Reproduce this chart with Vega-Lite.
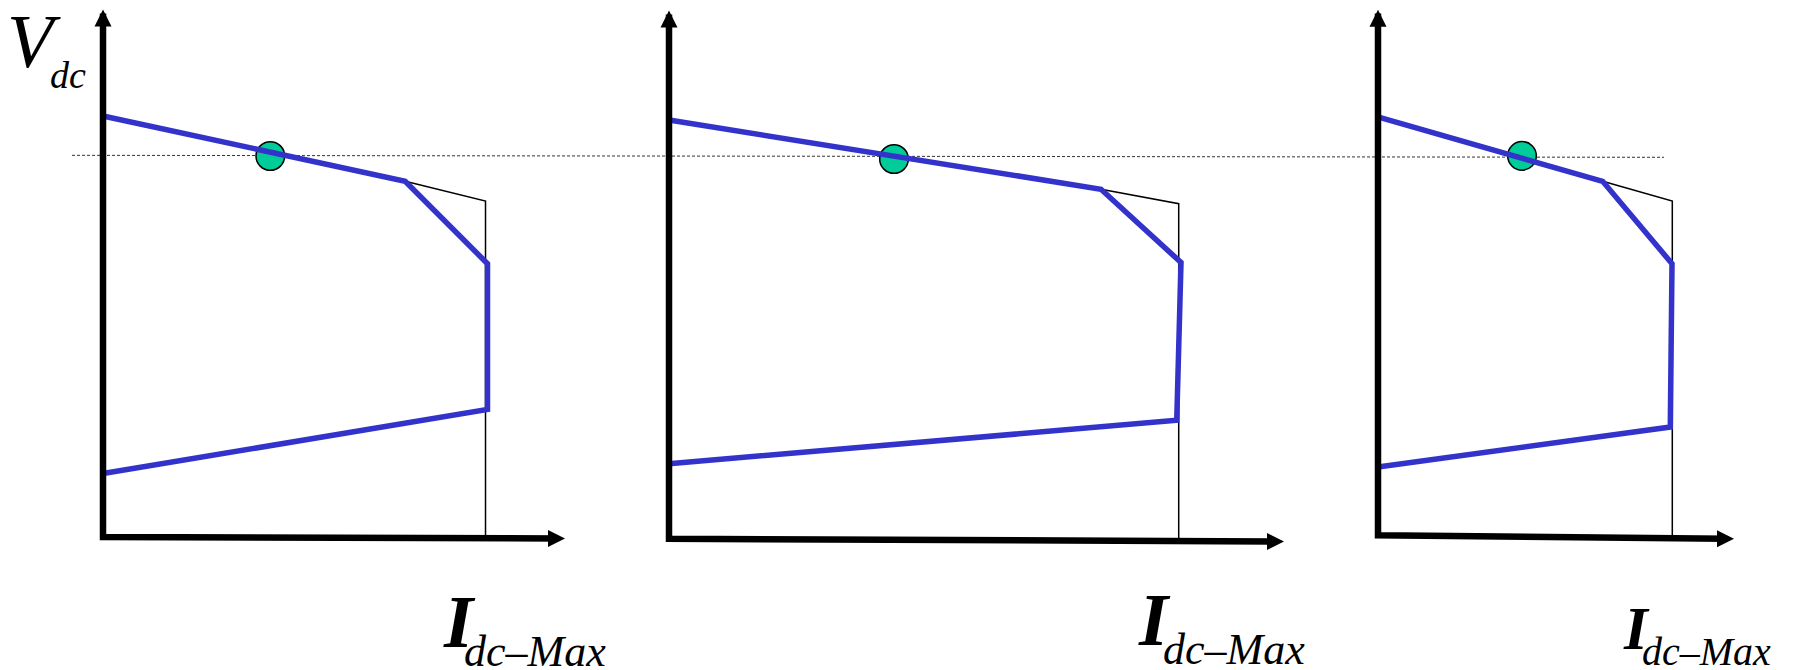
{
  "$schema": "https://vega.github.io/schema/vega-lite/v6.json",
  "padding": {"left": 6, "top": 0, "right": 0, "bottom": 0},
  "bounds": "flush",
  "spacing": 90,
  "background": "white",
  "config": {"view": {"stroke": null}},
  "datasets": {
    "curves": [
      {"panel": 1, "series": "limit", "ord": 1, "I": 0, "V": 1.1017},
      {"panel": 1, "series": "limit", "ord": 2, "I": 0.79, "V": 0.9308},
      {"panel": 1, "series": "limit", "ord": 3, "I": 1.0052, "V": 0.7152},
      {"panel": 1, "series": "limit", "ord": 4, "I": 1.0052, "V": 0.3336},
      {"panel": 1, "series": "limit", "ord": 5, "I": 0, "V": 0.1662},
      {"panel": 1, "series": "rated", "ord": 1, "I": 0.79, "V": 0.9308},
      {"panel": 1, "series": "rated", "ord": 2, "I": 1.0, "V": 0.8793},
      {"panel": 1, "series": "rated", "ord": 3, "I": 1.0, "V": 0},
      {"panel": 2, "series": "limit", "ord": 1, "I": 0, "V": 1.0912},
      {"panel": 2, "series": "limit", "ord": 2, "I": 0.8476, "V": 0.9099},
      {"panel": 2, "series": "limit", "ord": 3, "I": 1.0045, "V": 0.7183},
      {"panel": 2, "series": "limit", "ord": 4, "I": 0.9961, "V": 0.3054},
      {"panel": 2, "series": "limit", "ord": 5, "I": 0, "V": 0.1918},
      {"panel": 2, "series": "rated", "ord": 1, "I": 0.8476, "V": 0.9099},
      {"panel": 2, "series": "rated", "ord": 2, "I": 1.0, "V": 0.8722},
      {"panel": 2, "series": "rated", "ord": 3, "I": 1.0, "V": -0.006},
      {"panel": 3, "series": "limit", "ord": 1, "I": 0.005, "V": 1.098},
      {"panel": 3, "series": "limit", "ord": 2, "I": 0.7635, "V": 0.9308},
      {"panel": 3, "series": "limit", "ord": 3, "I": 0.999, "V": 0.7152},
      {"panel": 3, "series": "limit", "ord": 4, "I": 0.9932, "V": 0.2879},
      {"panel": 3, "series": "limit", "ord": 5, "I": 0, "V": 0.1832},
      {"panel": 3, "series": "rated", "ord": 1, "I": 0.7635, "V": 0.9308},
      {"panel": 3, "series": "rated", "ord": 2, "I": 1.0, "V": 0.8793},
      {"panel": 3, "series": "rated", "ord": 3, "I": 1.0, "V": 0}
    ],
    "axes": [
      {"panel": 1, "ord": 1, "I": 0, "V": 1.37},
      {"panel": 1, "ord": 2, "I": 0, "V": 0},
      {"panel": 1, "ord": 3, "I": 1.19, "V": -0.004},
      {"panel": 2, "ord": 1, "I": 0, "V": 1.367},
      {"panel": 2, "ord": 2, "I": 0, "V": -0.0044},
      {"panel": 2, "ord": 3, "I": 1.19, "V": -0.012},
      {"panel": 3, "ord": 1, "I": 0, "V": 1.37},
      {"panel": 3, "ord": 2, "I": 0, "V": 0.0044},
      {"panel": 3, "ord": 3, "I": 1.18, "V": -0.0044}
    ],
    "arrows": [
      {"panel": 1, "dir": "up", "I": 0, "V": 1.3804},
      {"panel": 1, "dir": "right", "I": 1.2078, "V": -0.004},
      {"panel": 2, "dir": "up", "I": 0, "V": 1.3778},
      {"panel": 2, "dir": "right", "I": 1.2066, "V": -0.012},
      {"panel": 3, "dir": "up", "I": 0, "V": 1.38},
      {"panel": 3, "dir": "right", "I": 1.2096, "V": -0.0044}
    ],
    "operating": [
      {"panel": 1, "I": 0.4374, "V": 0.997},
      {"panel": 2, "I": 0.4414, "V": 0.9892},
      {"panel": 3, "I": 0.4893, "V": 0.9975}
    ],
    "reference": [
      {"ord": 1, "I": -0.081, "V": 0.9988},
      {"ord": 2, "I": 4.081, "V": 0.9936}
    ],
    "labels": [
      {"panel": 1, "role": "yname", "text": "V", "I": -0.251, "V": 1.2299},
      {"panel": 1, "role": "ysub", "text": "dc", "I": -0.1386, "V": 1.175},
      {"panel": 1, "role": "xname", "text": "I", "I": 0.8915, "V": -0.2878},
      {"panel": 1, "role": "xsub", "text": "dc–Max", "I": 0.9438, "V": -0.3376},
      {"panel": 2, "role": "xname", "text": "I", "I": 0.9221, "V": -0.2826},
      {"panel": 2, "role": "xsub", "text": "dc–Max", "I": 0.9692, "V": -0.3323},
      {"panel": 3, "role": "xname", "text": "I", "I": 0.8359, "V": -0.2931},
      {"panel": 3, "role": "xsub", "text": "dc–Max", "I": 0.8971, "V": -0.335}
    ]
  },
  "hconcat": [
    {
      "width": 476,
      "height": 535,
      "encoding": {
        "x": {"field": "I", "type": "quantitative", "scale": {"domain": [0, 1.2444], "nice": false, "zero": false}, "axis": null},
        "y": {"field": "V", "type": "quantitative", "scale": {"domain": [0, 1.4], "nice": false, "zero": false}, "axis": null}
      },
      "layer": [
        {"data": {"name": "reference"}, "mark": {"type": "line", "color": "#333333", "strokeWidth": 1, "strokeDash": [3, 2]}, "encoding": {"order": {"field": "ord"}}},
        {"data": {"name": "operating"}, "transform": [{"filter": "datum.panel === 1"}], "mark": {"type": "point", "shape": "circle", "filled": true, "fill": "#00CC99", "stroke": "black", "strokeWidth": 1.5, "opacity": 1, "size": 820}},
        {"data": {"name": "curves"}, "transform": [{"filter": "datum.panel === 1 && datum.series === 'rated'"}], "mark": {"type": "line", "color": "black", "strokeWidth": 1.5}, "encoding": {"order": {"field": "ord"}}},
        {"data": {"name": "curves"}, "transform": [{"filter": "datum.panel === 1 && datum.series === 'limit'"}], "mark": {"type": "line", "color": "#3333CC", "strokeWidth": 5.5}, "encoding": {"order": {"field": "ord"}}},
        {"data": {"name": "axes"}, "transform": [{"filter": "datum.panel === 1"}], "mark": {"type": "line", "color": "black", "strokeWidth": 6.5, "strokeJoin": "miter"}, "encoding": {"order": {"field": "ord"}}},
        {"data": {"name": "arrows"}, "transform": [{"filter": "datum.panel === 1 && datum.dir === 'up'"}], "mark": {"type": "point", "shape": "M0,0L-1,2L1,2Z", "filled": true, "color": "black", "opacity": 1, "size": 289}},
        {"data": {"name": "arrows"}, "transform": [{"filter": "datum.panel === 1 && datum.dir === 'right'"}], "mark": {"type": "point", "shape": "M0,0L-2,-1L-2,1Z", "filled": true, "color": "black", "opacity": 1, "size": 289}},
        {"data": {"name": "labels"}, "transform": [{"filter": "datum.panel === 1 && datum.role === 'yname'"}], "mark": {"type": "text", "font": "Liberation Serif", "fontStyle": "italic", "fontSize": 76, "align": "left", "baseline": "alphabetic", "color": "black"}, "encoding": {"text": {"field": "text"}}},
        {"data": {"name": "labels"}, "transform": [{"filter": "datum.panel === 1 && datum.role === 'ysub'"}], "mark": {"type": "text", "font": "Liberation Serif", "fontStyle": "italic", "fontSize": 38, "align": "left", "baseline": "alphabetic", "color": "black"}, "encoding": {"text": {"field": "text"}}},
        {"data": {"name": "labels"}, "transform": [{"filter": "datum.panel === 1 && datum.role === 'xname'"}], "mark": {"type": "text", "font": "Liberation Serif", "fontStyle": "italic", "fontWeight": "bold", "fontSize": 75, "align": "left", "baseline": "alphabetic", "color": "black"}, "encoding": {"text": {"field": "text"}}},
        {"data": {"name": "labels"}, "transform": [{"filter": "datum.panel === 1 && datum.role === 'xsub'"}], "mark": {"type": "text", "font": "Liberation Serif", "fontStyle": "italic", "fontSize": 44, "align": "left", "baseline": "alphabetic", "color": "black"}, "encoding": {"text": {"field": "text"}}}
      ]
    },
    {
      "width": 619,
      "height": 535,
      "encoding": {
        "x": {"field": "I", "type": "quantitative", "scale": {"domain": [0, 1.2144], "nice": false, "zero": false}, "axis": null},
        "y": {"field": "V", "type": "quantitative", "scale": {"domain": [0, 1.4], "nice": false, "zero": false}, "axis": null}
      },
      "layer": [
        {"data": {"name": "operating"}, "transform": [{"filter": "datum.panel === 2"}], "mark": {"type": "point", "shape": "circle", "filled": true, "fill": "#00CC99", "stroke": "black", "strokeWidth": 1.5, "opacity": 1, "size": 820}},
        {"data": {"name": "curves"}, "transform": [{"filter": "datum.panel === 2 && datum.series === 'rated'"}], "mark": {"type": "line", "color": "black", "strokeWidth": 1.5}, "encoding": {"order": {"field": "ord"}}},
        {"data": {"name": "curves"}, "transform": [{"filter": "datum.panel === 2 && datum.series === 'limit'"}], "mark": {"type": "line", "color": "#3333CC", "strokeWidth": 5.5}, "encoding": {"order": {"field": "ord"}}},
        {"data": {"name": "axes"}, "transform": [{"filter": "datum.panel === 2"}], "mark": {"type": "line", "color": "black", "strokeWidth": 6.5, "strokeJoin": "miter"}, "encoding": {"order": {"field": "ord"}}},
        {"data": {"name": "arrows"}, "transform": [{"filter": "datum.panel === 2 && datum.dir === 'up'"}], "mark": {"type": "point", "shape": "M0,0L-1,2L1,2Z", "filled": true, "color": "black", "opacity": 1, "size": 289}},
        {"data": {"name": "arrows"}, "transform": [{"filter": "datum.panel === 2 && datum.dir === 'right'"}], "mark": {"type": "point", "shape": "M0,0L-2,-1L-2,1Z", "filled": true, "color": "black", "opacity": 1, "size": 289}},
        {"data": {"name": "labels"}, "transform": [{"filter": "datum.panel === 2 && datum.role === 'xname'"}], "mark": {"type": "text", "font": "Liberation Serif", "fontStyle": "italic", "fontWeight": "bold", "fontSize": 75, "align": "left", "baseline": "alphabetic", "color": "black"}, "encoding": {"text": {"field": "text"}}},
        {"data": {"name": "labels"}, "transform": [{"filter": "datum.panel === 2 && datum.role === 'xsub'"}], "mark": {"type": "text", "font": "Liberation Serif", "fontStyle": "italic", "fontSize": 44, "align": "left", "baseline": "alphabetic", "color": "black"}, "encoding": {"text": {"field": "text"}}}
      ]
    },
    {
      "width": 380,
      "height": 535,
      "encoding": {
        "x": {"field": "I", "type": "quantitative", "scale": {"domain": [0, 1.2912], "nice": false, "zero": false}, "axis": null},
        "y": {"field": "V", "type": "quantitative", "scale": {"domain": [0, 1.4], "nice": false, "zero": false}, "axis": null}
      },
      "layer": [
        {"data": {"name": "operating"}, "transform": [{"filter": "datum.panel === 3"}], "mark": {"type": "point", "shape": "circle", "filled": true, "fill": "#00CC99", "stroke": "black", "strokeWidth": 1.5, "opacity": 1, "size": 820}},
        {"data": {"name": "curves"}, "transform": [{"filter": "datum.panel === 3 && datum.series === 'rated'"}], "mark": {"type": "line", "color": "black", "strokeWidth": 1.5}, "encoding": {"order": {"field": "ord"}}},
        {"data": {"name": "curves"}, "transform": [{"filter": "datum.panel === 3 && datum.series === 'limit'"}], "mark": {"type": "line", "color": "#3333CC", "strokeWidth": 5.5}, "encoding": {"order": {"field": "ord"}}},
        {"data": {"name": "axes"}, "transform": [{"filter": "datum.panel === 3"}], "mark": {"type": "line", "color": "black", "strokeWidth": 6.5, "strokeJoin": "miter"}, "encoding": {"order": {"field": "ord"}}},
        {"data": {"name": "arrows"}, "transform": [{"filter": "datum.panel === 3 && datum.dir === 'up'"}], "mark": {"type": "point", "shape": "M0,0L-1,2L1,2Z", "filled": true, "color": "black", "opacity": 1, "size": 289}},
        {"data": {"name": "arrows"}, "transform": [{"filter": "datum.panel === 3 && datum.dir === 'right'"}], "mark": {"type": "point", "shape": "M0,0L-2,-1L-2,1Z", "filled": true, "color": "black", "opacity": 1, "size": 289}},
        {"data": {"name": "labels"}, "transform": [{"filter": "datum.panel === 3 && datum.role === 'xname'"}], "mark": {"type": "text", "font": "Liberation Serif", "fontStyle": "italic", "fontWeight": "bold", "fontSize": 61, "align": "left", "baseline": "alphabetic", "color": "black"}, "encoding": {"text": {"field": "text"}}},
        {"data": {"name": "labels"}, "transform": [{"filter": "datum.panel === 3 && datum.role === 'xsub'"}], "mark": {"type": "text", "font": "Liberation Serif", "fontStyle": "italic", "fontSize": 40, "align": "left", "baseline": "alphabetic", "color": "black"}, "encoding": {"text": {"field": "text"}}}
      ]
    }
  ]
}
